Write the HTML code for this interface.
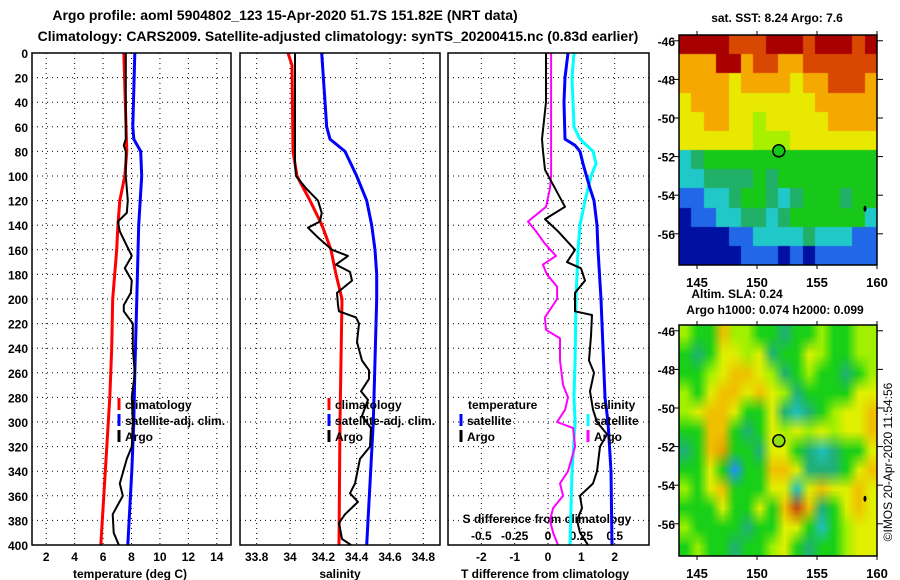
<!DOCTYPE html>
<html><head><meta charset="utf-8">
<style>
body{margin:0;background:#fff;width:900px;height:580px;overflow:hidden;font-family:"Liberation Sans",Arial,sans-serif;}
svg{position:absolute;left:0;top:0}
text{font-family:"Liberation Sans",Arial,sans-serif;font-weight:bold;fill:#000}
canvas{position:absolute}
</style></head>
<body>
<canvas id="map1" width="198" height="230" style="left:679px;top:35px"></canvas>
<canvas id="map2" width="198" height="231" style="left:679px;top:325px"></canvas>
<svg id="chart" width="900" height="580">
<text x="285" y="20" font-size="14" text-anchor="middle">Argo profile: aoml 5904802_123 15-Apr-2020 51.7S 151.82E (NRT data)</text>
<text x="338" y="41" font-size="14" text-anchor="middle">Climatology: CARS2009. Satellite-adjusted climatology: synTS_20200415.nc (0.83d earlier)</text>
<text x="777" y="22" font-size="12" text-anchor="middle">sat. SST: 8.24 Argo: 7.6</text>
<text x="737" y="298" font-size="12" text-anchor="middle">Altim. SLA: 0.24</text>
<text x="775" y="314" font-size="12" text-anchor="middle">Argo h1000: 0.074 h2000: 0.099</text>
<text transform="translate(892,462) rotate(-90)" font-size="12" font-weight="normal" text-anchor="middle" style="font-weight:normal">©IMOS 20-Apr-2020 11:54:56</text>
<text x="130" y="578" font-size="12" text-anchor="middle">temperature (deg C)</text>
<text x="340" y="578" font-size="12" text-anchor="middle">salinity</text>
<text x="545" y="578" font-size="12" text-anchor="middle">T difference from climatology</text>
<text x="547" y="523" font-size="12" text-anchor="middle">S difference from climatology</text>
</svg>
<script>
// ---- data ----
const depthTicks=[0,20,40,60,80,100,120,140,160,180,200,220,240,260,280,300,320,340,360,380,400];
const tTicks=[2,4,6,8,10,12,14];
const sTicks=[33.8,34,34.2,34.4,34.6,34.8];
const dTTicks=[-2,-1,0,1,2];
const dSTicks=[-0.5,-0.25,0,0.25,0.5];
const lonTicks=[145,150,155,160];
const latTicks=[-46,-48,-50,-52,-54,-56];

const tClimDepth=[0,80,100,120,140,160,180,200,240,280,320,360,400];
const tClim=[7.46,7.67,7.53,7.18,7.04,6.96,6.82,6.68,6.61,6.47,6.26,6.05,5.84];
const tSatDepth=[0,60,70,80,100,140,200,260,300,340,400];
const tSat=[8.23,8.09,8.16,8.65,8.72,8.51,8.37,8.23,8.16,8.02,7.74];
const tArgoDepth=[0,70,75,80,100,120,130,137,145,155,165,175,185,195,205,210,220,240,260,280,300,320,330,350,360,375,390,400];
const tArgo=[7.60,7.60,7.46,7.60,7.60,7.74,7.67,7.04,7.18,7.60,8.02,7.53,8.02,7.95,7.46,7.46,8.09,8.09,8.23,8.02,8.09,8.02,7.67,7.18,7.39,6.68,6.75,7.11];

const sClimDepth=[0,10,80,100,120,140,160,180,200,300,400];
const sClim=[33.988,34.012,34.018,34.042,34.12,34.192,34.246,34.276,34.312,34.30,34.294];
const sSatDepth=[0,60,70,80,100,120,140,160,180,200,300,400];
const sSat=[34.19,34.22,34.24,34.33,34.40,34.46,34.49,34.51,34.52,34.52,34.50,34.46];
const sArgoDepth=[0,90,100,110,120,130,137,142,150,160,165,172,178,185,195,205,210,215,220,235,250,258,265,275,282,295,305,320,330,350,358,365,375,382,395,400];
const sArgo=[34.03,34.03,34.036,34.096,34.168,34.19,34.18,34.108,34.168,34.252,34.348,34.276,34.36,34.372,34.282,34.288,34.294,34.396,34.414,34.402,34.432,34.474,34.474,34.426,34.468,34.432,34.486,34.48,34.42,34.39,34.36,34.408,34.33,34.294,34.312,34.366];

const dTArgoDepth=[0,40,70,80,95,110,125,135,145,160,170,175,185,195,210,213,230,250,260,275,290,300,310,320,340,350,360,370,380,390,400];
const dTArgo=[-0.06,-0.06,-0.18,-0.15,-0.09,0.21,0.51,-0.09,0.30,0.81,0.57,0.99,1.11,0.81,0.81,1.32,1.29,1.23,1.38,1.26,1.35,1.47,1.77,1.56,1.47,1.35,0.96,1.02,0.87,0.96,1.20];
const dTSatDepth=[0,20,40,70,75,80,90,110,120,140,160,200,240,260,280,300,340,400];
const dTSat=[0.60,0.51,0.48,0.51,0.81,0.96,1.05,1.26,1.38,1.47,1.50,1.59,1.65,1.68,1.71,1.80,1.89,1.92];
const dSArgoDepth=[0,100,110,125,137,145,155,165,172,180,190,200,215,225,232,250,270,280,290,300,305,320,340,350,360,370,380,390,400];
const dSArgo=[0.023,0.023,0.015,-0.015,-0.15,-0.09,-0.023,0.06,-0.038,-0.008,0.068,0.068,-0.023,-0.015,0.09,0.09,0.113,0.15,0.128,0.068,0.188,0.203,0.15,0.09,0.113,0.038,0.015,0.038,0.075];
const dSSatDepth=[0,20,60,70,80,90,100,120,140,160,200,250,280,300,340,400];
const dSSat=[0.195,0.18,0.195,0.24,0.338,0.36,0.323,0.278,0.24,0.225,0.21,0.203,0.195,0.203,0.18,0.165];

// ---- scales ----
const Y0=53,Y1=545;
const yD=d=>Y0+(d/400)*(Y1-Y0);
const P1={x0:32,x1:231,d0:1,d1:15};
const P2={x0:240,x1:440,d0:33.7,d1:34.9};
const P3={x0:448,x1:649,d0:-3,d1:3.03};
const P3S={x0:448,x1:649,d0:-0.75,d1:0.7575};
const sx=(p,v)=>p.x0+(v-p.d0)/(p.d1-p.d0)*(p.x1-p.x0);

const NS='http://www.w3.org/2000/svg';
const svg=document.getElementById('chart');
function mk(tag,attrs,parent){const e=document.createElementNS(NS,tag);for(const k in attrs)e.setAttribute(k,attrs[k]);(parent||svg).appendChild(e);return e;}
function txt(x,y,s,size,anchor){const t=mk('text',{x:x,y:y,'font-size':size,'text-anchor':anchor||'middle'});t.textContent=s;return t;}

function panel(p,ticks,fmt,name){
  const g=mk('g',{});
  
  
  ticks.forEach(v=>{const x=sx(p,v);const l=mk('line',{x1:x,x2:x,y1:Y0,y2:Y1,stroke:'#000','stroke-width':1,'stroke-dasharray':'1,4'},g);
    
    const t=txt(x,561,fmt(v),12);g.appendChild(t);
    });
  depthTicks.forEach(d=>{if(d===0||d===400)return;const y=yD(d);const l=mk('line',{x1:p.x0,x2:p.x1,y1:y,y2:y,stroke:'#000','stroke-width':1,'stroke-dasharray':'1,4'},g);
    });
  return g;
}
function frame(p,name){const r=mk('rect',{x:p.x0,y:Y0,width:p.x1-p.x0,height:Y1-Y0,fill:'none',stroke:'#000','stroke-width':1.5});
  }
function line(p,ds,vs,color,w,name){
  const pts=ds.map((d,i)=>sx(p,vs[i]).toFixed(1)+','+yD(d).toFixed(1)).join(' ');
  const l=mk('polyline',{points:pts,fill:'none',stroke:color,'stroke-width':w,'stroke-linejoin':'round'});
  
  
}
panel(P1,tTicks,v=>String(v),'temperature-panel');
panel(P2,sTicks,v=>String(v),'salinity-panel');
panel(P3,dTTicks,v=>String(v),'difference-panel');
dSTicks.forEach(v=>{const t=txt(sx(P3S,v),540,String(v),12);
  });
depthTicks.forEach(d=>{const t=txt(28,yD(d)+5,String(d),12,'end');
  });

line(P1,tClimDepth,tClim,'#f00',3,'temp-climatology-line');
line(P1,tSatDepth,tSat,'#00f',3,'temp-satellite-line');
line(P1,tArgoDepth,tArgo,'#000',2,'temp-argo-line');
line(P2,sClimDepth,sClim,'#f00',3,'sal-climatology-line');
line(P2,sSatDepth,sSat,'#00f',3,'sal-satellite-line');
line(P2,sArgoDepth,sArgo,'#000',2,'sal-argo-line');
line(P3S,dSSatDepth,dSSat,'#0ff',3,'sdiff-satellite-line');
line(P3S,dSArgoDepth,dSArgo,'#f0f',2,'sdiff-argo-line');
line(P3,dTSatDepth,dTSat,'#00f',3,'tdiff-satellite-line');
line(P3,dTArgoDepth,dTArgo,'#000',2,'tdiff-argo-line');
frame(P1,'temperature-frame');frame(P2,'salinity-frame');frame(P3,'difference-frame');

function legend(x,y,color,label,name){
  const m=mk('line',{x1:x,x2:x,y1:y-11,y2:y+1,stroke:color,'stroke-width':3});
  
  const t=txt(x+6,y,label,12,'start');
  
}
legend(119,409,'#f00','climatology','legend-climatology');
legend(119,425,'#00f','satellite-adj. clim.','legend-satellite-adj');
legend(119,441,'#000','Argo','legend-argo');
legend(329,409,'#f00','climatology','legend-sal-climatology');
legend(329,425,'#00f','satellite-adj. clim.','legend-sal-satellite-adj');
legend(329,441,'#000','Argo','legend-sal-argo');
{const t=txt(468,409,'temperature',12,'start');}
{const t=txt(594,409,'salinity',12,'start');}
legend(461,425,'#00f','satellite','legend-t-satellite');
legend(461,441,'#000','Argo','legend-t-argo');
legend(588,425,'#0ff','satellite','legend-s-satellite');
legend(588,441,'#f0f','Argo','legend-s-argo');

// ---- maps ----
const map1Rows=["DDDDRRRDDDRDDDRD","OOODDORROORRRRRR","OOOOYOOOOYOORRRO","YOOOYYYYYYYOOOOO","YYOOYYLYYYYYOOOO","YYYYYYLLLYYYYYYY","CgGGGGGGGGGGGGGG","CCggggGgGGGGGGGG","BBCCgGGgCgGGGgGG","NBBCCggCgGGGGGGC","NNNNBBCCCCgCCCBB","NNNNNBBBNBNBBBBB"];
const map2Rows=["LGGOLLGGgGGLGGLL","GgGYYLYgGGYLGGLL","GGLYOOYLgGLGGgGL","LGYOOYOYLgGGGGYY","LYOOYGGYgCgGLYYO","GGOOGgGYLYLYLYYO","gGOoGGgYYGgCgGGY","GGYGBGGOOYgggGYO","LGYOGGGYYCYOYYOY","GGGYGGYGOROgGYOY","LGGGGgGGYYGCGLYY","GLGGgGGLYGgGGLYY"];
const pal={D:'#a80000',R:'#d84800',O:'#f4a800',Y:'#e8e800',L:'#a8f000',G:'#18c818',g:'#20b068',C:'#20c8c8',B:'#2068e8',N:'#0010a0',o:'#e89000'};
const pal2={D:'#a80000',R:'#c84810',O:'#f0c000',Y:'#e0f000',L:'#a0f000',G:'#18d018',g:'#20b078',C:'#20c0c0',B:'#2090ff',N:'#0010a0',o:'#e8a000'};
function drawMap(id,rows,p,smooth){
  const c=document.getElementById(id),ctx=c.getContext('2d');
  const sm=document.createElement('canvas');sm.width=16;sm.height=12;const sc=sm.getContext('2d');
  rows.forEach((r,j)=>{for(let i=0;i<r.length;i++){sc.fillStyle=p[r[i]];sc.fillRect(i,j,1,1);}});
  ctx.imageSmoothingEnabled=smooth;ctx.drawImage(sm,0,0,c.width,c.height);
}
drawMap('map1',map1Rows,pal,false);
drawMap('map2',map2Rows,pal2,true);

const lonX=lon=>679+(lon-143.5)*12;
function mapAxes(top,h,name){
  const r=mk('rect',{x:679,y:top,width:198,height:h,fill:'none',stroke:'#000','stroke-width':1.5});
  
  const latY=lat=>top+(-45.7-lat)*19.3;
  lonTicks.forEach(l=>{const x=lonX(l);mk('line',{x1:x,x2:x,y1:top,y2:top-4,stroke:'#000'});mk('line',{x1:x,x2:x,y1:top+h,y2:top+h+4,stroke:'#000'});
    const t=txt(x,top+h+22,String(l),13);});
  latTicks.forEach(l=>{const y=latY(l);mk('line',{x1:673,x2:679,y1:y,y2:y,stroke:'#000'});mk('line',{x1:877,x2:883,y1:y,y2:y,stroke:'#000'});
    const t=txt(675,y+5,String(l),12,'end');});
  const c=mk('circle',{cx:lonX(151.82),cy:latY(-51.7),r:6,fill:name==='sst-map'?'#18c818':'#90e010',stroke:'#000','stroke-width':1.5});
  
  mk('ellipse',{cx:lonX(159),cy:latY(-54.7),rx:1.5,ry:3,fill:'#000'});
}
mapAxes(35,230,'sst-map');
mapAxes(325,231,'sla-map');
</script>
</body></html>
